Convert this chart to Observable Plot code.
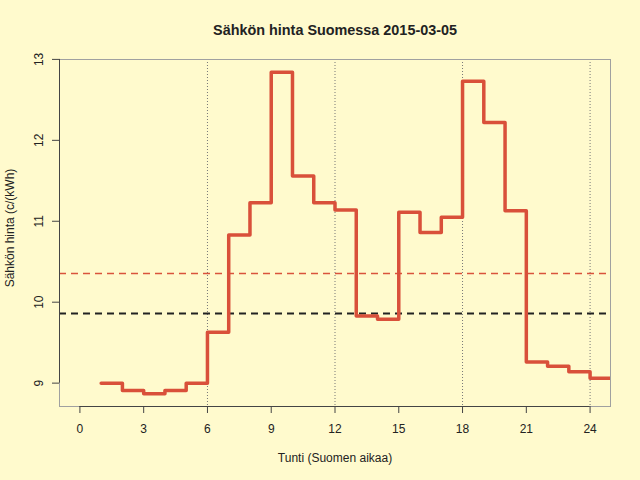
<!DOCTYPE html>
<html>
<head>
<meta charset="utf-8">
<script src="https://cdn.jsdelivr.net/npm/d3@7"></script>
<script src="https://cdn.jsdelivr.net/npm/@observablehq/plot@0.6"></script>
<style>
  html, body { margin: 0; padding: 0; background: #fffacd; }
  #chart { width: 640px; height: 480px; }
</style>
</head>
<body>
<div id="chart"></div>
<script>
const title = "Sähkön hinta Suomessa 2015-03-05";
const xTitle = "Tunti (Suomen aikaa)";
const yTitle = "Sähkön hinta (c/(kWh)";

const hours = [1, 2, 3, 4, 5, 6, 7, 8, 9, 10, 11, 12, 13, 14, 15, 16, 17, 18, 19, 20, 21, 22, 23, 24];
const prices = [9.00, 8.91, 8.87, 8.91, 9.00, 9.63, 10.83, 11.23, 12.84, 11.56, 11.23, 11.14,
                9.83, 9.79, 11.11, 10.86, 11.05, 12.73, 12.22, 11.13, 9.26, 9.21, 9.14, 9.06];
const referenceLevel = [9.86];

const xTicks = [0, 3, 6, 9, 12, 15, 18, 21, 24];
const yTicks = [9, 10, 11, 12, 13];
const gridHours = [6, 12, 18, 24];

// step series: each hour's price holds until the next hour
const steps = hours.map((h, i) => ({hour: h, price: prices[i]}));
steps.push({hour: hours[hours.length - 1] + 1, price: prices[prices.length - 1]});
const meanPrice = [d3.mean(prices)];

// R-style 4% extended domains
const xr = [xTicks[0], xTicks[xTicks.length - 1]];
const xPad = (xr[1] - xr[0]) * 0.04;
const yr = d3.extent(prices);
const yPad = (yr[1] - yr[0]) * 0.04;
const xDomain = [xr[0] - xPad, xr[1] + xPad];
const yDomain = [yr[0] - yPad, yr[1] + yPad];

const axisColor = "#444";
const textColor = "#222";

const chart = Plot.plot({
  width: 640,
  height: 480,
  marginLeft: 59,
  marginRight: 30,
  marginTop: 59,
  marginBottom: 74,
  style: {background: "#fffacd", fontFamily: "'Liberation Sans', Arial, Helvetica, sans-serif", fontSize: "12px", color: textColor},
  x: {domain: xDomain},
  y: {domain: yDomain},
  marks: [
    Plot.ruleX(gridHours, {stroke: "#777", strokeWidth: 1, strokeDasharray: "1,2"}),
    Plot.ruleY(meanPrice, {stroke: "#d9533c", strokeWidth: 1.5, strokeDasharray: "7,5"}),
    Plot.ruleY(referenceLevel, {stroke: "#222", strokeWidth: 2, strokeDasharray: "7,5"}),
    Plot.line(steps, {x: "hour", y: "price", curve: "step-after", stroke: "#d9503a", strokeWidth: 3.5, clip: true}),
    Plot.frame({stroke: "#a0a0a0", strokeWidth: 1}),
    // axis lines spanning the tick range (R style)
    Plot.ruleY([yDomain[0]], {x1: xTicks[0], x2: xTicks[xTicks.length - 1], stroke: axisColor, strokeWidth: 1}),
    Plot.ruleX([xDomain[0]], {y1: yTicks[0], y2: yTicks[yTicks.length - 1], stroke: axisColor, strokeWidth: 1}),
    Plot.axisX({ticks: xTicks, tickSize: 7, tickPadding: 11, stroke: axisColor, fill: textColor, label: null, fontSize: 12}),
    Plot.axisY({ticks: yTicks, tickSize: 7, text: null, stroke: axisColor, label: null}),
    Plot.text(yTicks, {x: xDomain[0], y: d => d, text: d => String(d), rotate: -90, dx: -17, textAnchor: "middle", lineAnchor: "bottom", fill: textColor, fontSize: 12}),
    Plot.text([title], {frameAnchor: "top", dy: -29, lineAnchor: "middle", fontWeight: "bold", fontSize: 14.4, fill: textColor}),
    Plot.text([xTitle], {frameAnchor: "bottom", dy: 52, lineAnchor: "middle", fill: textColor, fontSize: 12}),
    Plot.text([yTitle], {frameAnchor: "left", dx: -46, dy: -5, rotate: -90, textAnchor: "middle", lineAnchor: "bottom", fill: textColor, fontSize: 12})
  ]
});
document.getElementById("chart").appendChild(chart);
</script>
</body>
</html>
